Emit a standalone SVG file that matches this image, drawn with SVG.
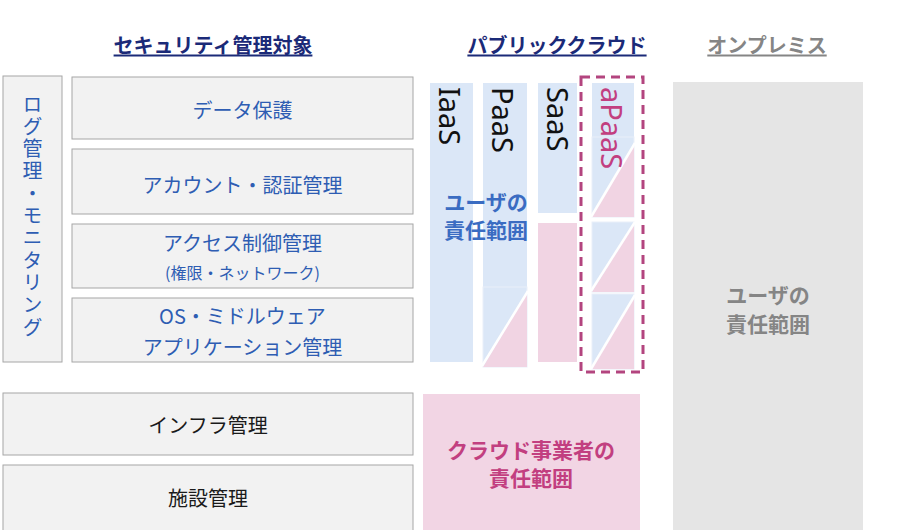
<svg xmlns="http://www.w3.org/2000/svg" width="900" height="530" viewBox="0 0 900 530">
<defs>
<style>
text{font-family:"Noto Sans CJK JP","Noto Sans",sans-serif;}
.box{fill:#f2f2f2;stroke:#a6a6a6;stroke-width:1;}
.t{font-size:20px;fill:#2e5db3;text-anchor:middle;dominant-baseline:central;}
.tk{font-size:20px;fill:#1a1a1a;text-anchor:middle;dominant-baseline:central;}
.title{font-size:20px;font-weight:bold;text-anchor:middle;dominant-baseline:central;text-decoration:underline;}
.blue{fill:#dbe7f7;}
.pink{fill:#f1d4e3;}
.sec{fill:#dbe7f7;stroke:#e9eff9;stroke-width:1;}
.diag{stroke:#ffffff;stroke-width:2.5;}
.vt{font-family:"Noto Sans","Open Sans",sans-serif;font-size:29px;fill:#111111;}
.resp{font-size:21px;font-weight:bold;text-anchor:middle;dominant-baseline:central;}
</style>
</defs>

<g id="titles">
<text class="title" x="213" y="44" fill="#1b2a78">セキュリティ管理対象</text>
<text class="title" x="557" y="44" fill="#1b2a78">パブリッククラウド</text>
<text class="title" x="767" y="44" fill="#858585">オンプレミス</text>
</g>

<g id="log-monitoring">
<rect class="box" x="3" y="76" width="59" height="286"/>
<text x="32.5" y="94" writing-mode="vertical-rl" style="font-size:20px;fill:#2e5db3;letter-spacing:2.3px">ログ管理・モニタリング</text>
</g>

<g id="data-protection">
<rect class="box" x="72" y="77" width="341" height="62"/>
<text class="t" x="242.5" y="109">データ保護</text>
</g>
<g id="account-auth">
<rect class="box" x="72" y="149" width="341" height="65"/>
<text class="t" x="242.5" y="184">アカウント・認証管理</text>
</g>
<g id="access-control">
<rect class="box" x="72" y="224" width="341" height="64"/>
<text class="t" x="242.5" y="242">アクセス制御管理</text>
<text class="t" x="242.5" y="272" style="font-size:16px">(権限・ネットワーク)</text>
</g>
<g id="os-middleware">
<rect class="box" x="72" y="298" width="341" height="64"/>
<text class="t" x="242.5" y="315">OS・ミドルウェア<tspan x="242.5" dy="31">アプリケーション管理</tspan></text>
</g>
<g id="infra">
<rect class="box" x="3" y="393" width="410" height="62"/>
<text class="tk" x="208" y="424">インフラ管理</text>
</g>
<g id="facility">
<rect class="box" x="3" y="465" width="410" height="70"/>
<text class="tk" x="208" y="497">施設管理</text>
</g>

<g id="iaas">
<rect class="blue" x="430" y="83" width="43" height="279"/>
<text class="vt" transform="translate(439 87) rotate(90)">IaaS</text>
</g>
<g id="paas">
<rect class="blue" x="483" y="83" width="44" height="204"/>
<rect class="sec" x="483" y="287" width="44" height="80"/>
<polygon class="pink" points="483,367 527,293 527,367"/>
<line class="diag" x1="482" y1="366" x2="528" y2="291"/>
<text class="vt" transform="translate(492 87) rotate(90)">PaaS</text>
</g>
<g id="saas">
<rect class="blue" x="538" y="83" width="39" height="130"/>
<rect class="pink" x="538" y="223" width="39" height="139"/>
<text class="vt" transform="translate(547 87) rotate(90)">SaaS</text>
</g>
<g id="apaas">
<rect class="blue" x="592" y="83" width="42" height="54"/>
<rect class="sec" x="592" y="137" width="42" height="80"/>
<polygon class="pink" points="592,217 634,145 634,217"/>
<line class="diag" x1="591" y1="217" x2="635" y2="143"/>
<rect class="sec" x="592" y="222" width="42" height="70"/>
<polygon class="pink" points="592,292 634,224 634,292"/>
<line class="diag" x1="591" y1="291" x2="635" y2="222"/>
<rect class="sec" x="592" y="294" width="42" height="75"/>
<polygon class="pink" points="592,369 634,297 634,369"/>
<line class="diag" x1="591" y1="369" x2="635" y2="295"/>
<text class="vt" transform="translate(601 87) rotate(90)" style="fill:#c23f80">aPaaS</text>
<rect x="581" y="77" width="62" height="295" fill="none" stroke="#b3457f" stroke-width="3" stroke-dasharray="9 6"/>
</g>

<g id="user-responsibility-cloud">
<text class="resp" x="486" y="201" fill="#3a6cc2">ユーザの<tspan x="486" dy="28">責任範囲</tspan></text>
</g>

<g id="provider-responsibility">
<rect x="423" y="394" width="217" height="140" fill="#f2d5e4"/>
<text class="resp" x="531" y="449" fill="#c23f80">クラウド事業者の<tspan x="531" dy="28">責任範囲</tspan></text>
</g>

<g id="onprem">
<rect x="673" y="82" width="190" height="452" fill="#e5e5e5"/>
<text class="resp" x="768" y="294" fill="#858585">ユーザの<tspan x="768" dy="29">責任範囲</tspan></text>
</g>

<g id="connectors"></g>
</svg>
